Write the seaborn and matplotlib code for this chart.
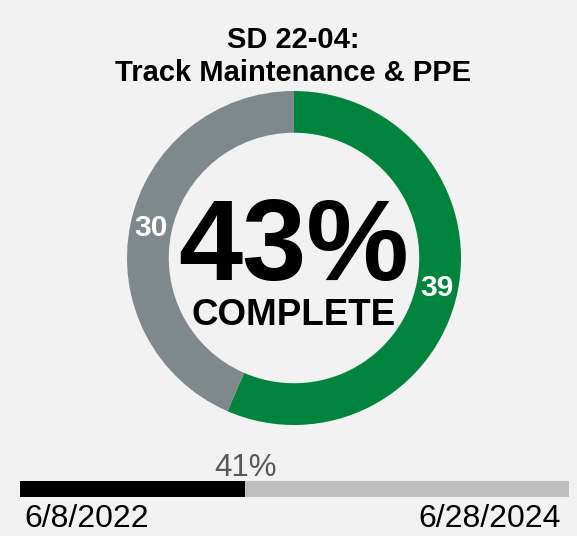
import matplotlib
matplotlib.use("Agg")
import matplotlib.pyplot as plt
import seaborn as sns
import pandas as pd

# ---- data ----
title_lines = ["SD 22-04:", "Track Maintenance & PPE"]
segments = ["Complete", "Remaining"]
segment_values = [39, 30]
center_value = "43%"
center_label = "COMPLETE"
progress_pct = 41
start_date = "6/8/2022"
end_date = "6/28/2024"

GREEN = "#00843d"
GRAY = "#7f888d"
BG = "#f2f2f2"
BAR_BG = "#bfbfbf"

sns.set_theme(style="white")
plt.rcParams["font.family"] = ["Liberation Sans", "DejaVu Sans"]

W, H = 577, 536
fig = plt.figure(figsize=(W / 100, H / 100), dpi=100, facecolor=BG)

def fx(px):
    return px / W

def fy(py):
    return 1 - py / H

# title
fig.text(fx(293), fy(48), title_lines[0], ha="center", va="baseline",
         fontsize=21, fontweight="bold", color="black")
fig.text(fx(293), fy(81), title_lines[1], ha="center", va="baseline",
         fontsize=21, fontweight="bold", color="black")

# donut
cx, cy, r = 294, 258, 167
ax = fig.add_axes([fx(cx - r), fy(cy + r), 2 * r / W, 2 * r / H])
ax.set_facecolor(BG)
total = sum(segment_values)
wedges, texts, autotexts = ax.pie(
    segment_values, colors=[GREEN, GRAY], startangle=90, counterclock=False,
    radius=1.0, wedgeprops=dict(width=0.25, edgecolor="none"),
    autopct=lambda p: f"{round(p * total / 100)}", pctdistance=0.875,
    textprops=dict(color="white", fontsize=21.5, fontweight="bold"))
ax.set_xlim(-1, 1)
ax.set_ylim(-1, 1)
ax.axis("off")
ax.text(0, -22 / r, center_value, ha="center", va="baseline",
        fontsize=83, fontweight="bold", color="black")
ax.text(0, -67 / r, center_label, ha="center", va="baseline",
        fontsize=26.5, fontweight="bold", color="black")

# progress bar
bx0, bx1, by0, by1 = 20, 569, 481, 497
bax = fig.add_axes([fx(bx0), fy(by1), (bx1 - bx0) / W, (by1 - by0) / H])
df_bg = pd.DataFrame({"row": ["p"], "value": [100]})
df_fg = pd.DataFrame({"row": ["p"], "value": [progress_pct]})
sns.barplot(data=df_bg, x="value", y="row", color=BAR_BG, width=1.0,
            saturation=1, ax=bax, edgecolor="none")
sns.barplot(data=df_fg, x="value", y="row", color="black", width=1.0,
            saturation=1, ax=bax, edgecolor="none")
bax.set_xlim(0, 100)
bax.set_ylim(0.5, -0.5)
bax.axis("off")

fig.text(fx(bx0 + (bx1 - bx0) * progress_pct / 100), fy(476), f"{progress_pct}%",
         ha="center", va="baseline", fontsize=22.5, color="#595959")
fig.text(fx(24), fy(527), start_date, ha="left", va="baseline",
         fontsize=23, color="black")
fig.text(fx(561), fy(527), end_date, ha="right", va="baseline",
         fontsize=23, color="black")

fig.savefig("out.png", dpi=100, facecolor=BG)
